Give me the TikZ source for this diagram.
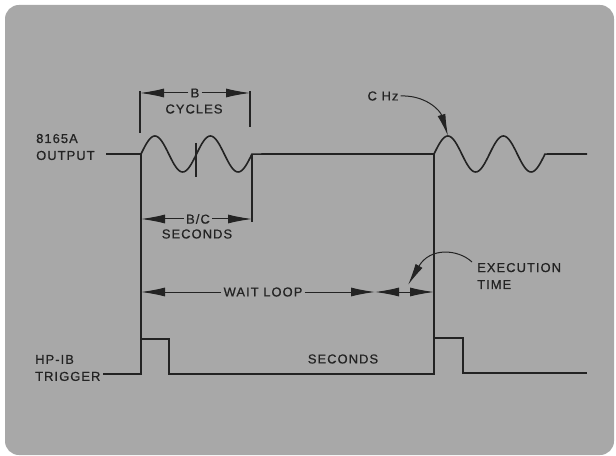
\documentclass[tikz,border=0pt]{standalone}
\usepackage{fontspec}
\setmainfont{Liberation Sans}[LetterSpace=8,FakeBold=0.6]
\usetikzlibrary{arrows.meta}

\definecolor{panel}{RGB}{168,168,168}
\definecolor{ink}{RGB}{35,35,35}

\tikzset{
  lbl/.style={font=\fontsize{13}{17}\selectfont, text=ink, inner sep=2bp},
  trace/.style={draw=ink, line width=1.6bp, line join=miter},
  extline/.style={draw=ink, line width=1.2bp},
  dim/.style={draw=ink, line width=1bp, -{Latex[length=24bp,width=9bp]}},
  dimboth/.style={draw=ink, line width=1bp, {Latex[length=24bp,width=9bp]}-{Latex[length=24bp,width=9bp]}},
  pointer/.style={draw=ink, line width=1bp, -{Latex[length=22bp,width=8bp]}},
}

\begin{document}
\begin{tikzpicture}[x=1bp,y=-1bp]
   \useasboundingbox (0,0) rectangle (616,456);
   \fill[white] (0,0) rectangle (616,456);
   \fill[panel, rounded corners=14bp] (5,5) rectangle (614,455);

   % signal names
   \node[lbl, align=left, anchor=west] (outname) at (34,147) {8165A\\OUTPUT};
   \node[lbl, align=left, anchor=west] (trigname) at (33,368) {HP-IB\\TRIGGER};

   % 8165A output
   \draw[trace] (106,154) -- (141,154)
      -- plot[domain=0:2, samples=81, smooth] ({141+55.5*\x},{154-18*sin(360*\x)})
      -- (434,154)
      -- plot[domain=0:2, samples=81, smooth] ({434+55.5*\x},{154-18*sin(360*\x)})
      -- (587,154);
   \draw[trace] (196,143) -- (196,177);

   % extension lines
   \draw[extline] (140,91) -- (140,133);
   \draw[extline] (250,91) -- (250,127);
   \draw[extline] (252,154) -- (252,222);
   \draw[extline] (141,154) -- (141,339);
   \draw[extline] (434,154) -- (434,338);

   % HP-IB trigger
   \draw[trace] (103,374) -- (141,374) -- (141,339) -- (169,339) -- (169,374)
      -- (434,374) -- (434,338) -- (463,338) -- (463,373) -- (587,373);
   \node[lbl] (trigsec) at (343,359) {SECONDS};

   % B cycles
   \coordinate (bL) at (140,93);
   \coordinate (bR) at (250,93);
   \node[lbl] (bcyc) at (195,93) {B};
   \node[lbl] (cyc) at (194,109) {CYCLES};
   \draw[dim] (bcyc) -- (bL);
   \draw[dim] (bcyc) -- (bR);

   % B/C seconds
   \coordinate (sL) at (141,219);
   \coordinate (sR) at (252,219);
   \node[lbl] (bc) at (198,219) {B/C};
   \node[lbl] (bcsec) at (197,234) {SECONDS};
   \draw[dim] (bc) -- (sL);
   \draw[dim] (bc) -- (sR);

   % wait loop and execution time
   \coordinate (wL) at (141,292);
   \coordinate (wE) at (375,292);
   \coordinate (wR) at (434,292);
   \node[lbl] (wait) at (263,292) {WAIT LOOP};
   \draw[dim] (wait) -- (wL);
   \draw[dim] (wait) -- (wE);
   \draw[dimboth] (wE) -- (wR);

   \node[lbl, align=left, anchor=west] (exec) at (475,276) {EXECUTION\\TIME};
   \coordinate (execfrom) at (472,262);
   \coordinate (exectip) at (408,285);
   \draw[pointer] (execfrom) .. controls (458,249) and (430,247) .. (exectip);

   % C Hz
   \node[lbl] (chz) at (383,96) {C Hz};
   \coordinate (peak) at (448,136);
   \draw[pointer] (chz.east) .. controls (425,95) and (440,110) .. (peak);
\end{tikzpicture}
\end{document}
